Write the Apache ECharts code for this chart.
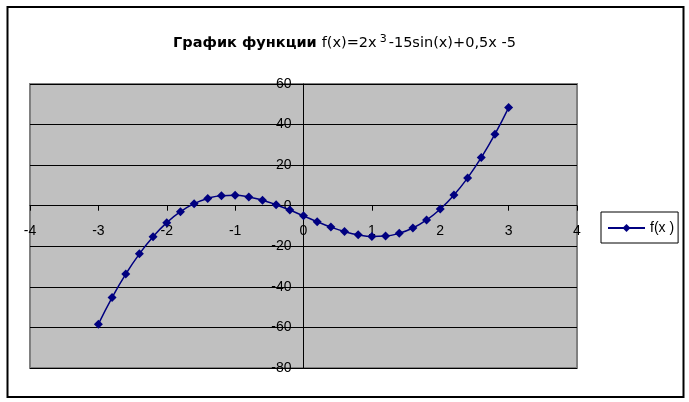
<!DOCTYPE html>
<html>
<head>
<meta charset="utf-8">
<script src="https://cdn.jsdelivr.net/npm/echarts@6/dist/echarts.min.js"></script>
<style>
  html, body { margin: 0; padding: 0; background: #fff; }
  #main { width: 689px; height: 402px; }
</style>
</head>
<body>
<div id="main"></div>
<script>
const xValues = [-3, -2.8, -2.6, -2.4, -2.2, -2, -1.8, -1.6, -1.4, -1.2, -1, -0.8, -0.6, -0.4, -0.2,
  0, 0.2, 0.4, 0.6, 0.8, 1, 1.2, 1.4, 1.6, 1.8, 2, 2.2, 2.4, 2.6, 2.8, 3];
const fValues = [-58.38, -45.28, -33.72, -23.72, -15.27, -8.36, -2.96, 1.0, 3.59, 4.93, 5.12, 4.34, 2.74, 0.51, -2.14,
  -5, -7.86, -10.51, -12.74, -14.34, -15.12, -14.93, -13.59, -11.0, -7.04, -1.64, 5.27, 13.72, 23.72, 35.28, 48.38];
const seriesName = 'f(x )';

const font = 'Liberation Sans';
const titleFont = 'DejaVu Sans';

// plot area in pixels
const gridLeft = 30, gridRight = 112, gridTop = 84, gridBottom = 34;
const plotW = 689 - gridLeft - gridRight;
const plotH = 402 - gridTop - gridBottom;
// shift axes so they cross at zero (like the original)
const yAxisShift = plotW * 4 / 8;
const xAxisShift = plotH * 80 / 140;

const option = {
  animation: false,
  textStyle: { fontFamily: font },
  graphic: [{
    type: 'rect',
    shape: { x: 7.5, y: 7, width: 676, height: 390 },
    style: { fill: 'none', stroke: '#000', lineWidth: 2 },
    silent: true
  }],
  title: {
    text: '{b|График функции} {n|f(x)=2x}{s|3}{n|-15sin(x)+0,5x -5}',
    left: 'center',
    top: 24,
    textStyle: {
      rich: {
        b: { fontFamily: titleFont, fontSize: 14.5, fontWeight: 'bold', color: '#000', lineHeight: 22, verticalAlign: 'bottom' },
        n: { fontFamily: titleFont, fontSize: 14.5, fontWeight: 'normal', color: '#000', lineHeight: 22, verticalAlign: 'bottom' },
        s: { fontFamily: titleFont, fontSize: 11, fontWeight: 'normal', color: '#000', lineHeight: 22, verticalAlign: 'bottom', padding: [0, 2, 6, 3] }
      }
    }
  },
  legend: {
    left: 601,
    top: 212,
    orient: 'vertical',
    data: [seriesName],
    itemWidth: 37,
    itemHeight: 10,
    itemGap: 4,
    padding: [9, 4, 8, 6],
    borderColor: '#000',
    borderWidth: 1,
    textStyle: { fontFamily: font, fontSize: 14, color: '#000' }
  },
  grid: {
    left: gridLeft,
    right: gridRight,
    top: gridTop,
    bottom: gridBottom,
    show: true,
    backgroundColor: '#c0c0c0',
    borderColor: '#808080',
    borderWidth: 2
  },
  xAxis: {
    type: 'value',
    min: -4,
    max: 4,
    interval: 1,
    position: 'bottom',
    offset: -xAxisShift,
    axisLine: { onZero: false, lineStyle: { color: '#000', width: 1 } },
    axisTick: { show: true, length: 5, lineStyle: { color: '#000' } },
    axisLabel: { fontFamily: font, fontSize: 14, color: '#000', margin: 18 },
    splitLine: { show: false }
  },
  yAxis: {
    type: 'value',
    min: -80,
    max: 60,
    interval: 20,
    position: 'left',
    offset: -yAxisShift,
    axisLine: { show: true, onZero: false, lineStyle: { color: '#000', width: 1 } },
    axisTick: { show: true, length: 5, lineStyle: { color: '#000' } },
    axisLabel: { fontFamily: font, fontSize: 14, color: '#000', margin: 12 },
    splitLine: { show: true, lineStyle: { color: '#000', width: 1 } }
  },
  series: [{
    name: seriesName,
    type: 'line',
    smooth: true,
    data: xValues.map((x, i) => [x, fValues[i]]),
    symbol: 'diamond',
    symbolSize: 9,
    itemStyle: { color: '#000080' },
    lineStyle: { color: '#000080', width: 1.5 }
  }]
};

echarts.init(document.getElementById('main')).setOption(option);
</script>
</body>
</html>
